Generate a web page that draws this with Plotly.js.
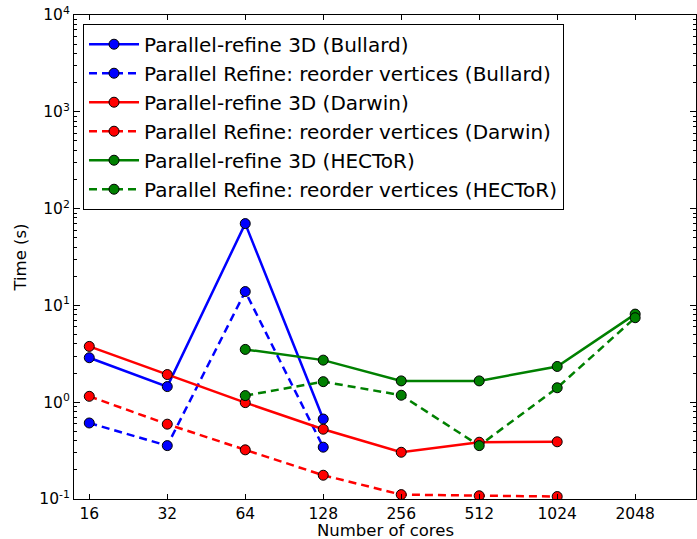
<!DOCTYPE html>
<html>
<head>
<meta charset="utf-8">
<script src="https://cdn.plot.ly/plotly-3.0.1.min.js"></script>
<style>html,body{margin:0;padding:0;background:#fff;}#chart{width:697px;height:539px;}</style>
</head>
<body>
<div id="chart"></div>
<script>
const coresBD = [16, 32, 64, 128];
const refineBullard = [2.88, 1.45, 70, 0.67];
const reorderBullard = [0.61, 0.356, 13.9, 0.343];

const coresDarwin = [16, 32, 64, 128, 256, 512, 1024];
const refineDarwin = [3.77, 1.93, 0.99, 0.526, 0.304, 0.386, 0.39];
const reorderDarwin = [1.15, 0.593, 0.322, 0.176, 0.111, 0.108, 0.106];

const coresHECToR = [64, 128, 256, 512, 1024, 2048];
const refineHECToR = [3.51, 2.72, 1.66, 1.66, 2.34, 8.13];
const reorderHECToR = [1.17, 1.63, 1.18, 0.356, 1.41, 7.46];

const seriesNames = [
  "Parallel-refine 3D (Bullard)",
  "Parallel Refine: reorder vertices (Bullard)",
  "Parallel-refine 3D (Darwin)",
  "Parallel Refine: reorder vertices (Darwin)",
  "Parallel-refine 3D (HECToR)",
  "Parallel Refine: reorder vertices (HECToR)"
];
const xTitle = "Number of cores";
const yTitle = "Time (s)";
const xTicks = [16, 32, 64, 128, 256, 512, 1024, 2048];
const xTickText = ["16", "32", "64", "128", "256", "512", "1024", "2048"];
const yTicks = [0.1, 1, 10, 100, 1000, 10000];
const yTickText = ["10<sup>-1</sup>", "10<sup>0</sup>", "10<sup>1</sup>", "10<sup>2</sup>", "10<sup>3</sup>", "10<sup>4</sup>"];

const minorY = [];
for (let e = -1; e < 4; e++) for (let m = 2; m <= 9; m++) minorY.push(m * Math.pow(10, e));

function tr(x, y, name, color, dashed) {
  return {
    x: x, y: y, name: name, type: 'scatter', mode: 'lines+markers',
    line: {color: color, width: 2.5, dash: dashed ? '8px,5px' : 'solid'},
    marker: {color: color, size: 10, line: {color: '#000', width: 1}}
  };
}

const data = [
  tr(coresBD, refineBullard, seriesNames[0], '#0000ff', false),
  tr(coresBD, reorderBullard, seriesNames[1], '#0000ff', true),
  tr(coresDarwin, refineDarwin, seriesNames[2], '#ff0000', false),
  tr(coresDarwin, reorderDarwin, seriesNames[3], '#ff0000', true),
  tr(coresHECToR, refineHECToR, seriesNames[4], '#008000', false),
  tr(coresHECToR, reorderHECToR, seriesNames[5], '#008000', true)
];

const layout = {
  width: 697, height: 539,
  margin: {l: 74, r: 1, t: 15, b: 40},
  paper_bgcolor: '#fff', plot_bgcolor: '#fff',
  font: {family: 'DejaVu Sans', color: '#000', size: 15},
  showlegend: true,
  legend: {
    x: 0.0145, y: 0.982, xanchor: 'left', yanchor: 'top',
    bgcolor: '#fff', bordercolor: '#000', borderwidth: 1,
    font: {family: 'DejaVu Sans', size: 20, color: '#000'},
    traceorder: 'normal', itemwidth: 50
  },
  annotations: [{
    text: xTitle, xref: 'paper', yref: 'paper', x: 0.5, y: -0.066,
    xanchor: 'center', yanchor: 'middle', showarrow: false,
    font: {family: 'DejaVu Sans', size: 16.5, color: '#000'}
  }],
  xaxis: {
    type: 'log', range: [Math.log10(Math.pow(2, 3.804)), Math.log10(Math.pow(2, 11.78))],
    tickmode: 'array', tickvals: xTicks, ticktext: xTickText,
    ticks: 'inside', ticklen: 5, tickcolor: '#000', tickwidth: 1,
    showline: true, linecolor: '#000', linewidth: 1, mirror: 'allticks',
    showgrid: false, zeroline: false,
    tickfont: {size: 15.5}
  },
  yaxis: {
    type: 'log', range: [-1, 4],
    tickmode: 'array', tickvals: yTicks, ticktext: yTickText,
    ticks: 'inside', ticklen: 6, tickcolor: '#000', tickwidth: 1,
    showline: true, linecolor: '#000', linewidth: 1, mirror: 'allticks',
    showgrid: false, zeroline: false,
    tickfont: {size: 15.5},
    minor: {tickmode: 'array', tickvals: minorY, ticks: 'inside', ticklen: 3, tickcolor: '#000', showgrid: false},
    title: {text: yTitle, font: {size: 16.5}, standoff: 8}
  }
};

Plotly.newPlot('chart', data, layout, {displayModeBar: false, staticPlot: true});
</script>
</body>
</html>
